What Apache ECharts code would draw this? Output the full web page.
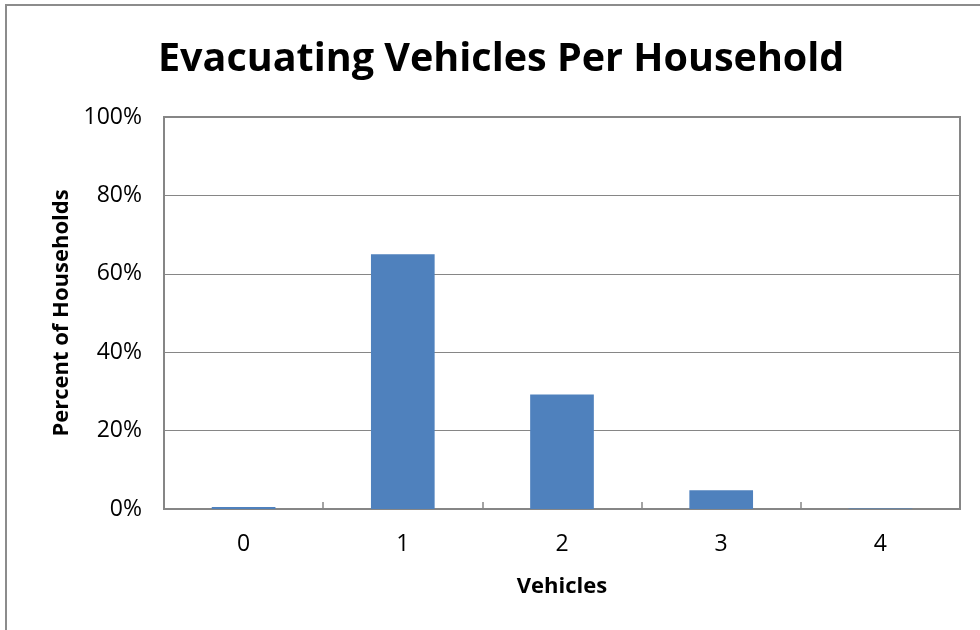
<!DOCTYPE html>
<html>
<head>
<meta charset="utf-8">
<script src="https://cdn.jsdelivr.net/npm/echarts@6/dist/echarts.min.js"></script>
<style>html,body{margin:0;padding:0;background:#fff;}#c{width:980px;height:630px;}</style>
</head>
<body>
<div id="c"></div>
<script>
const categories = ['0', '1', '2', '3', '4'];
const values = [0.5, 65, 29.2, 4.8, 0.1];
const yTicks = { min: 0, max: 100, interval: 20 };

const chart = echarts.init(document.getElementById('c'));
const font = '"Open Sans", "Liberation Sans", sans-serif';
chart.setOption({
  animation: false,
  backgroundColor: '#fff',
  graphic: [{
    type: 'rect', shape: { x: 6, y: 5, width: 1000, height: 700 },
    style: { fill: 'none', stroke: '#8c8c8c', lineWidth: 2 }, silent: true, z: -1
  }],
  title: {
    text: 'Evacuating Vehicles Per Household',
    left: 153, top: 35,
    textStyle: { fontFamily: font, fontWeight: 'bold', fontSize: 39.5, color: '#000' }
  },
  grid: { left: 164, right: 20, top: 117, bottom: 121, show: true, borderColor: '#868686', borderWidth: 2 },
  xAxis: {
    type: 'category', data: categories,
    name: 'Vehicles', nameLocation: 'middle', nameGap: 67,
    nameTextStyle: { fontFamily: font, fontWeight: 'bold', fontSize: 22, color: '#000' },
    axisLine: { lineStyle: { color: '#868686', width: 2 } },
    axisTick: { show: true, inside: true, length: 7, lineStyle: { color: '#868686', width: 1.5 } },
    axisLabel: { fontFamily: font, fontSize: 23, color: '#000', margin: 24 }
  },
  yAxis: {
    type: 'value', min: yTicks.min, max: yTicks.max, interval: yTicks.interval,
    name: 'Percent of Households', nameLocation: 'middle', nameGap: 90, nameRotate: 90,
    nameTextStyle: { fontFamily: font, fontWeight: 'bold', fontSize: 22, color: '#000' },
    axisLine: { show: true, lineStyle: { color: '#868686', width: 2 } },
    axisTick: { show: false },
    splitLine: { lineStyle: { color: '#868686', width: 1 } },
    axisLabel: { fontFamily: font, fontSize: 23, color: '#000', margin: 22, formatter: v => v + '%' }
  },
  series: [{
    type: 'bar', data: values, barWidth: '40%',
    itemStyle: { color: '#4F81BD' }
  }]
});
</script>
</body>
</html>
